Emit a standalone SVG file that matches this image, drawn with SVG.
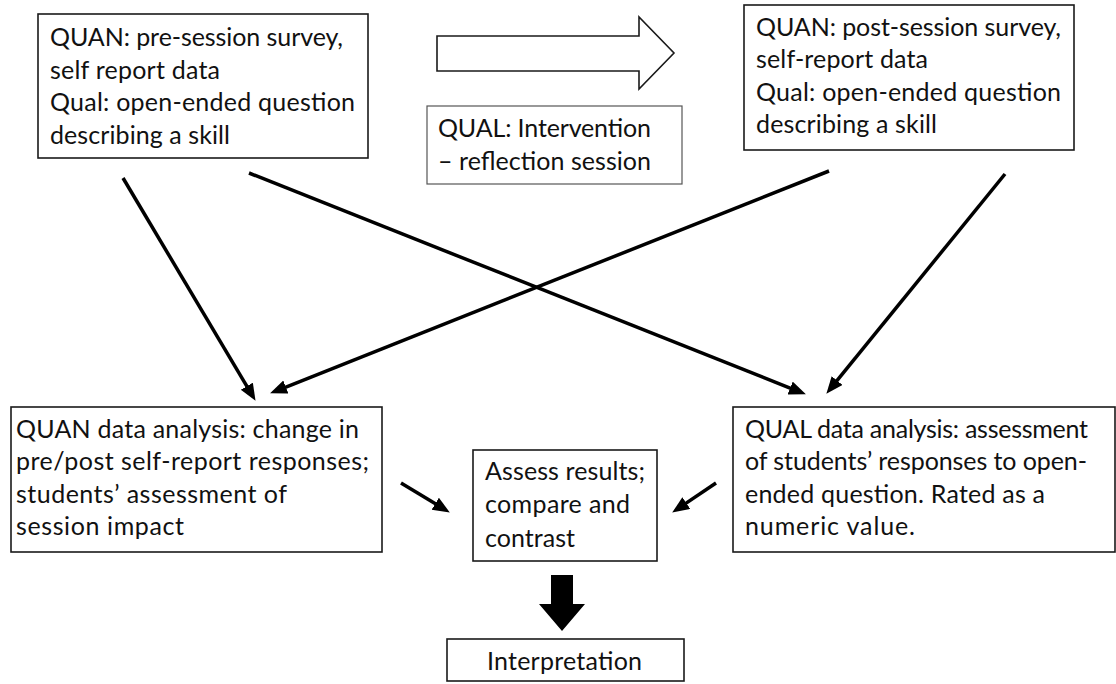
<svg xmlns="http://www.w3.org/2000/svg" width="1116" height="684" viewBox="0 0 1116 684">
<style>
.box{fill:#fff;stroke:#1a1a1a;stroke-width:1.6}
.lbox{fill:#fff;stroke:#555;stroke-width:1.2}
.t{font-family:Lato,"Open Sans","Liberation Sans",sans-serif;font-size:25px;fill:#111}
.c{stroke:#000;stroke-width:3.5;fill:none;marker-end:url(#ah)}
</style>
<defs>
<marker id="ah" markerUnits="userSpaceOnUse" markerWidth="20" markerHeight="16" refX="6" refY="7" orient="auto">
<path d="M0,0 L17,7 L0,14 Z" fill="#000"/>
</marker>
</defs>
<rect width="1116" height="684" fill="#fff"/>

<g id="pre">
<rect class="box" x="38" y="14" width="330" height="144"/>
<text class="t" x="50" y="46" textLength="293">QUAN: pre-session survey,</text>
<text class="t" x="50" y="79" textLength="170">self report data</text>
<text class="t" x="50" y="111" textLength="305">Qual: open-ended question</text>
<text class="t" x="50" y="144" textLength="180">describing a skill</text>
</g>

<g id="flow-arrow">
<polygon points="437,36 639,36 639,17 674,53 639,89 639,71 437,71" fill="#fff" stroke="#1a1a1a" stroke-width="1.6"/>
</g>

<g id="intervention">
<rect class="lbox" x="427" y="106" width="255" height="78"/>
<text class="t" x="438" y="137" textLength="213">QUAL: Intervention</text>
<text class="t" x="438" y="170" textLength="213">– reflection session</text>
</g>

<g id="post">
<rect class="box" x="744" y="5" width="330" height="145"/>
<text class="t" x="756" y="36" textLength="305">QUAN: post-session survey,</text>
<text class="t" x="756" y="68" textLength="172">self-report data</text>
<text class="t" x="756" y="101" textLength="305">Qual: open-ended question</text>
<text class="t" x="756" y="133" textLength="181">describing a skill</text>
</g>

<g id="quan-analysis">
<rect class="box" x="11" y="407" width="371" height="145"/>
<text class="t" x="16" y="438" textLength="343">QUAN data analysis: change in</text>
<text class="t" x="16" y="470" textLength="353">pre/post self-report responses;</text>
<text class="t" x="16" y="503" textLength="271">students’ assessment of</text>
<text class="t" x="16" y="535" textLength="168">session impact</text>
</g>

<g id="qual-analysis">
<rect class="box" x="733" y="407" width="382" height="145"/>
<text class="t" x="745" y="438" textLength="343">QUAL data analysis: assessment</text>
<text class="t" x="745" y="470" textLength="342">of students’ responses to open-</text>
<text class="t" x="745" y="503" textLength="300">ended question. Rated as a</text>
<text class="t" x="745" y="535" textLength="170">numeric value.</text>
</g>

<g id="assess">
<rect class="box" x="473" y="450" width="184" height="111"/>
<text class="t" x="485" y="480" textLength="160">Assess results;</text>
<text class="t" x="485" y="513" textLength="145">compare and</text>
<text class="t" x="485" y="547" textLength="90">contrast</text>
</g>

<g id="down-arrow">
<polygon points="551,575 573,575 573,604 585,604 562,631 539,604 551,604" fill="#000"/>
</g>

<g id="interpretation">
<rect class="box" x="447" y="639" width="237" height="42"/>
<text class="t" x="487" y="670" textLength="155">Interpretation</text>
</g>

<g id="connectors">
<line class="c" x1="123" y1="178" x2="249.9" y2="391.4"/>
<line class="c" x1="249" y1="173" x2="795.7" y2="390.3"/>
<line class="c" x1="829" y1="171" x2="280.3" y2="389.3"/>
<line class="c" x1="1005" y1="174" x2="833.3" y2="385.2"/>
<line class="c" x1="401" y1="483" x2="440.4" y2="506.8"/>
<line class="c" x1="716" y1="483" x2="681.3" y2="506.4"/>
</g>
</svg>
